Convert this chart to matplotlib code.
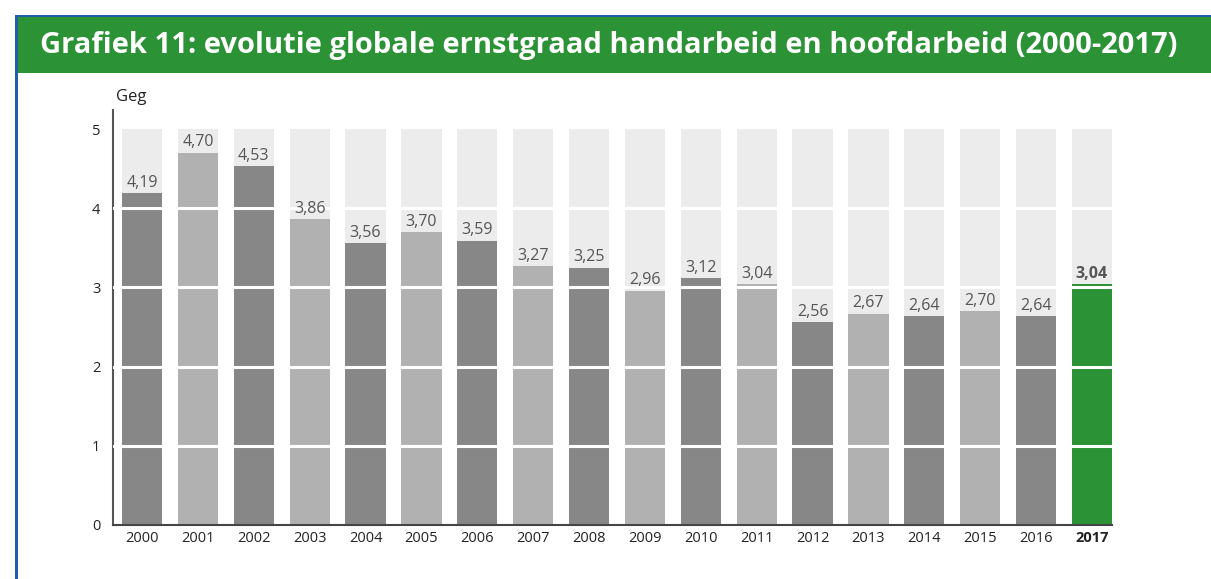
import matplotlib.pyplot as plt
from matplotlib.patches import Rectangle

years = ['2000', '2001', '2002', '2003', '2004', '2005', '2006', '2007', '2008',
         '2009', '2010', '2011', '2012', '2013', '2014', '2015', '2016', '2017']
values = [4.19, 4.70, 4.53, 3.86, 3.56, 3.70, 3.59, 3.27, 3.25,
          2.96, 3.12, 3.04, 2.56, 2.67, 2.64, 2.70, 2.64, 3.04]
labels = ['4,19', '4,70', '4,53', '3,86', '3,56', '3,70', '3,59', '3,27', '3,25',
          '2,96', '3,12', '3,04', '2,56', '2,67', '2,64', '2,70', '2,64', '3,04']

DARK = '#878787'
LIGHT = '#b1b1b1'
GREEN = '#2b9236'
BG = '#ececec'

plt.rcParams['font.family'] = ['Open Sans', 'DejaVu Sans']

fig = plt.figure(figsize=(12.11, 5.79), dpi=100)

# frame lines and green header
fig.add_artist(Rectangle((15 / 1211, 0), 2.5 / 1211, 1 - 15 / 579,
                         transform=fig.transFigure, color='#1f5fa8', lw=0))
fig.add_artist(Rectangle((15 / 1211, 1 - 17.5 / 579), 1, 2.5 / 579,
                         transform=fig.transFigure, color='#1f5fa8', lw=0))
fig.add_artist(Rectangle((17.5 / 1211, 1 - 73 / 579), 1, 55.5 / 579,
                         transform=fig.transFigure, color=GREEN, lw=0))
fig.text(0.503, 1 - 46 / 579,
         'Grafiek 11: evolutie globale ernstgraad handarbeid en hoofdarbeid (2000-2017)',
         color='white', fontsize=21, fontweight='bold', ha='center', va='center')

ax = fig.add_axes([113 / 1211, 1 - 525 / 579, 999 / 1211, 415 / 579])
x = list(range(len(years)))
w = 0.72

ax.bar(x, [5] * len(x), width=w, color=BG, zorder=1)
colors = [DARK if i % 2 == 0 else LIGHT for i in x]
colors[-1] = GREEN
ax.bar(x, values, width=w, color=colors, zorder=2)
for g in [1, 2, 3, 4]:
    ax.axhline(g, color='white', lw=2.2, zorder=3)

for i, (v, lab) in enumerate(zip(values, labels)):
    last = i == len(x) - 1
    ax.text(i, v + 0.03, lab, ha='center', va='bottom', fontsize=11.5,
            color='#555555', fontweight='bold' if last else 'normal', zorder=4)

ax.set_xlim(-0.52, 17.36)
ax.set_ylim(0, 5.24)
ax.set_yticks([0, 1, 2, 3, 4, 5])
ax.set_xticks(x)
ax.set_xticklabels(years)
for t in ax.get_xticklabels():
    if t.get_text() == '2017':
        t.set_fontweight('bold')
ax.tick_params(axis='both', length=0, labelsize=10.5, colors='#222222')
ax.tick_params(axis='x', pad=4)
ax.tick_params(axis='y', pad=9)
for s in ['top', 'right']:
    ax.spines[s].set_visible(False)
ax.spines['left'].set_color('#555555')
ax.spines['left'].set_linewidth(1.5)
ax.spines['bottom'].set_color('#444444')
ax.spines['bottom'].set_linewidth(1.5)
ax.text(0.003, 5.3, 'Geg', fontsize=12, color='#222222', ha='left', va='bottom',
        transform=ax.get_yaxis_transform())

fig.savefig('out.png', dpi=100)
